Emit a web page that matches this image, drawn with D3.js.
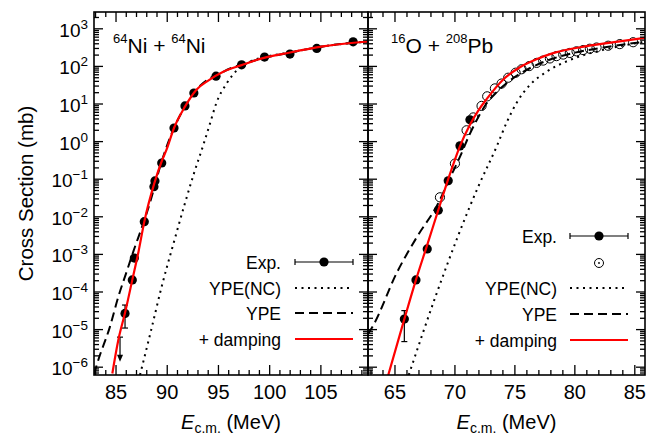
<!DOCTYPE html>
<html><head><meta charset="utf-8">
<script src="https://cdn.jsdelivr.net/npm/d3@7"></script>
<style>
body{margin:0;background:#fff}
text{font-family:"Liberation Sans",Arial,Helvetica,sans-serif;fill:#000}
</style>
</head><body>
<svg id="c" width="657" height="436"></svg>
<script>
// ---------------- DATA ----------------
// 64Ni + 64Ni
const niExpE = [85.88, 86.59, 86.79, 87.76, 88.7, 88.8, 89.46, 90.66, 91.73, 92.6, 94.76, 97.26, 99.5, 101.98, 104.6, 108.15];
const niExpS = [2.7e-5, 2.1e-4, 8e-4, 7.4e-3, 0.063, 0.09, 0.27, 2.3, 8.9, 19.6, 55, 110, 177, 213, 300, 450];
const niErrE = [85.88];
const niErrLo = [1.1e-5];
const niErrHi = [4.5e-5];
const niLimitE = [85.39];
const niLimitTop = [6.3e-6];
const niLimitBottom = [1.4e-6];
const niDampE = [84.64, 85.22, 85.88, 86.59, 87.2, 87.76, 88.75, 89.46, 89.94, 90.66, 91.73, 92.85, 94.0, 95.47, 97.26, 98.7, 102, 105.2, 109.6];
const niDampS = [6.8e-7, 5.2e-6, 2.8e-5, 2.1e-4, 1.2e-3, 7.4e-3, 0.08, 0.3, 0.62, 2.3, 8.5, 24, 42, 72, 108, 148, 234, 340, 460];
const niYPEE = [82.85, 83.27, 84.41, 85.22, 86.04, 86.85, 87.5, 88.3, 89.46, 90.66, 91.73, 92.85, 95.47, 98.7, 102, 105.2, 109.6];
const niYPES = [6.5e-7, 1.55e-6, 1.2e-5, 7.4e-5, 3.5e-4, 1.6e-3, 5e-3, 2.3e-2, 0.3, 2.3, 8.5, 24, 72, 148, 234, 340, 460];
const niNCE = [87.34, 88.4, 89.46, 90.6, 91.73, 92.6, 93.52, 94.2, 94.8, 95.8, 96.8, 98.1, 99.5, 102, 105.2, 109.6];
const niNCS = [6.2e-7, 9e-6, 1.4e-4, 1.9e-3, 2.3e-2, 0.14, 0.81, 3.2, 10.7, 35, 79, 135, 178, 234, 340, 460];

// 16O + 208Pb
const oExpE = [65.78, 66.75, 67.69, 68.61, 69.44, 70.42, 71.25];
const oExpS = [1.9e-5, 2.1e-4, 1.4e-3, 1.5e-2, 9.1e-2, 0.77, 3.8];
const oErrE = [65.78];
const oErrLo = [4.8e-6];
const oErrHi = [3.2e-5];
const oOpenE = [68.75, 70.0, 70.97, 71.53, 72.22, 72.69, 73.33, 73.89, 74.44, 75.06, 75.56, 76.19, 76.81, 77.36, 77.92, 78.47, 79.03, 79.58, 80.14, 80.69, 81.25, 81.81, 82.78, 83.75, 84.86];
const oOpenS = [0.033, 0.26, 2.0, 4.4, 8.9, 16, 26, 35, 50, 68, 84, 102, 124, 143, 163, 188, 207, 228, 252, 272, 295, 318, 355, 392, 440];
const oDampE = [64.44, 65.78, 66.75, 67.69, 68.61, 69.44, 70.42, 71.25, 72.0, 72.64, 74.03, 75.42, 76.8, 78.19, 80.97, 83.75, 85.85];
const oDampS = [6.2e-7, 1.9e-5, 2.1e-4, 1.8e-3, 1.5e-2, 0.1, 0.76, 2.8, 7.1, 13.5, 45, 95, 155, 225, 345, 465, 575];
const oYPEE = [62.75, 63.19, 65.14, 66.8, 68.61, 69.6, 70.5, 71.2, 71.9, 72.6, 73.5, 74.5, 76.2, 78.0, 80.0, 82.4, 85.85];
const oYPES = [7.6e-6, 1.3e-5, 3.2e-4, 2.8e-3, 2.3e-2, 0.11, 0.45, 1.5, 4.2, 10, 21, 40, 88, 155, 232, 318, 455];
const oNCE = [66.15, 68.47, 71.94, 73.48, 74.31, 75.14, 76.25, 77.64, 79.58, 82.36, 85.14, 85.85];
const oNCS = [6.2e-7, 9.1e-5, 6.3e-2, 0.74, 3.2, 10.7, 32, 72, 148, 275, 417, 457];

// axis ticks
const yDomain = [6.2e-7, 2.8e3];
const yMajorExp = [-6, -5, -4, -3, -2, -1, 0, 1, 2, 3];
const niXDomain = [82.85, 109.6];
const niXMajor = [85, 90, 95, 100, 105];
const oXDomain = [62.75, 85.85];
const oXMajor = [65, 70, 75, 80, 85];

// ---------------- DRAWING ----------------
const svg = d3.select("#c");
const TOP = 12, BOT = 375;
const y = d3.scaleLog().domain(yDomain).range([BOT, TOP]);
const zip = (a, b) => a.map((v, i) => [v, b[i]]);

function panel(id, x0, x1, xDomain, xMajor) {
  const x = d3.scaleLinear().domain(xDomain).range([x0, x1]);
  svg.append("clipPath").attr("id", id).append("rect")
    .attr("x", x0).attr("y", TOP).attr("width", x1 - x0).attr("height", BOT - TOP);
  const g = svg.append("g");
  const plot = g.append("g").attr("clip-path", `url(#${id})`);
  const tg = g.append("g").attr("stroke", "#000").attr("stroke-width", 1.3);
  const minorY = y.ticks().filter(v => v >= yDomain[0] && v <= yDomain[1]);
  minorY.forEach(v => {
    const e = Math.log10(v);
    const major = Math.abs(e - Math.round(e)) < 1e-9;
    const L = major ? 9 : 5;
    const yy = y(v);
    tg.append("line").attr("x1", x0).attr("x2", x0 + L).attr("y1", yy).attr("y2", yy);
    tg.append("line").attr("x1", x1).attr("x2", x1 - L).attr("y1", yy).attr("y2", yy);
  });
  const xs = d3.range(Math.ceil(xDomain[0]), Math.floor(xDomain[1]) + 1);
  xs.forEach(v => {
    const major = xMajor.includes(v);
    const L = major ? 10 : 5;
    const xx = x(v);
    tg.append("line").attr("x1", xx).attr("x2", xx).attr("y1", BOT).attr("y2", BOT - L);
    tg.append("line").attr("x1", xx).attr("x2", xx).attr("y1", TOP).attr("y2", TOP + L);
  });
  xMajor.forEach(v => {
    g.append("text").attr("x", x(v)).attr("y", 399).attr("text-anchor", "middle")
      .attr("font-size", 20).text(v);
  });
  g.append("rect").attr("x", x0).attr("y", TOP).attr("width", x1 - x0).attr("height", BOT - TOP)
    .attr("fill", "none").attr("stroke", "#000").attr("stroke-width", 1.6);
  const t = g.append("text").attr("x", (x0 + x1) / 2).attr("y", 429).attr("text-anchor", "middle").attr("font-size", 20);
  t.append("tspan").attr("font-style", "italic").text("E");
  t.append("tspan").attr("font-size", 14).attr("dy", 4).text("c.m.");
  t.append("tspan").attr("dy", -4).text(" (MeV)");
  return {x, g, plot};
}

const line = (x) => d3.line().x(d => x(d[0])).y(d => y(d[1])).curve(d3.curveMonotoneX);

function curves(P, nc, ype, damp) {
  P.plot.append("path").datum(nc).attr("d", line(P.x)).attr("fill", "none")
    .attr("stroke", "#000").attr("stroke-width", 2).attr("stroke-dasharray", "2,4.5");
  P.plot.append("path").datum(ype).attr("d", line(P.x)).attr("fill", "none")
    .attr("stroke", "#000").attr("stroke-width", 2).attr("stroke-dasharray", "9,5");
  return () => P.plot.append("path").datum(damp).attr("d", line(P.x)).attr("fill", "none")
    .attr("stroke", "#ff0000").attr("stroke-width", 2.2);
}

function errBars(P, E, lo, hi) {
  E.forEach((e, i) => {
    const xx = P.x(e);
    P.plot.append("line").attr("x1", xx).attr("x2", xx).attr("y1", y(lo[i])).attr("y2", y(hi[i])).attr("stroke", "#000").attr("stroke-width", 1.2);
    [lo[i], hi[i]].forEach(v => P.plot.append("line").attr("x1", xx - 3).attr("x2", xx + 3).attr("y1", y(v)).attr("y2", y(v)).attr("stroke", "#000").attr("stroke-width", 1.2));
  });
}

function filled(P, pts) {
  P.plot.selectAll(null).data(pts).enter().append("circle")
    .attr("cx", d => P.x(d[0])).attr("cy", d => y(d[1])).attr("r", 4.6).attr("fill", "#000");
}

function legend(x0, x1, xText, rows) {
  const g = svg.append("g");
  const lf = 17.5;
  rows.forEach(r => {
    if (r.label) g.append("text").attr("x", xText).attr("y", r.y + 7).attr("text-anchor", "end").attr("font-size", lf).text(r.label);
    const xm = (x0 + x1) / 2;
    if (r.kind === "exp") {
      g.append("line").attr("x1", x0).attr("x2", x1).attr("y1", r.y).attr("y2", r.y).attr("stroke", "#000").attr("stroke-width", 1.2);
      [x0, x1].forEach(xx => g.append("line").attr("x1", xx).attr("x2", xx).attr("y1", r.y - 3).attr("y2", r.y + 3).attr("stroke", "#000").attr("stroke-width", 1.2));
      g.append("circle").attr("cx", xm).attr("cy", r.y).attr("r", 4.6).attr("fill", "#000");
    } else if (r.kind === "open") {
      g.append("circle").attr("cx", xm).attr("cy", r.y).attr("r", 4.5).attr("fill", "none").attr("stroke", "#000").attr("stroke-width", 1);
      g.append("circle").attr("cx", xm).attr("cy", r.y).attr("r", 0.9).attr("fill", "#000");
    } else {
      const st = {nc: ["#000", "2,4.5"], ype: ["#000", "9,5"], damp: ["#ff0000", null]}[r.kind];
      g.append("line").attr("x1", x0).attr("x2", x1).attr("y1", r.y).attr("y2", r.y)
        .attr("stroke", st[0]).attr("stroke-width", 2).attr("stroke-dasharray", st[1]);
    }
  });
}

// left panel
const L = panel("clipL", 94, 368, niXDomain, niXMajor);
const redL = curves(L, zip(niNCE, niNCS), zip(niYPEE, niYPES), zip(niDampE, niDampS));
errBars(L, niErrE, niErrLo, niErrHi);
niLimitE.forEach((e, i) => {
  const xx = L.x(e), yt = y(niLimitTop[i]), yb = y(niLimitBottom[i]);
  L.plot.append("line").attr("x1", xx - 3).attr("x2", xx + 3).attr("y1", yt).attr("y2", yt).attr("stroke", "#000").attr("stroke-width", 1.2);
  L.plot.append("line").attr("x1", xx).attr("x2", xx).attr("y1", yt).attr("y2", yb - 6).attr("stroke", "#000").attr("stroke-width", 1.2);
  L.plot.append("path").attr("d", `M${xx - 3},${yb - 7}L${xx + 3},${yb - 7}L${xx},${yb}Z`).attr("fill", "#000");
});
filled(L, zip(niExpE, niExpS));
redL();

// right panel
const R = panel("clipR", 368, 645, oXDomain, oXMajor);
const redR = curves(R, zip(oNCE, oNCS), zip(oYPEE, oYPES), zip(oDampE, oDampS));
R.plot.selectAll(null).data(zip(oOpenE, oOpenS)).enter().append("circle")
  .attr("cx", d => R.x(d[0])).attr("cy", d => y(d[1])).attr("r", 4.6)
  .attr("fill", "none").attr("stroke", "#000").attr("stroke-width", 1);
errBars(R, oErrE, oErrLo, oErrHi);
filled(R, zip(oExpE, oExpS));
redR();

// y tick labels
yMajorExp.forEach(e => {
  const t = svg.append("text").attr("x", 88).attr("y", y(Math.pow(10, e)) + 8).attr("text-anchor", "end").attr("font-size", 19);
  t.append("tspan").text("10");
  t.append("tspan").attr("font-size", 13.5).attr("dy", -8).text(String(e).replace("-", "\u2212"));
});
svg.append("text").attr("transform", "translate(33,193.5) rotate(-90)").attr("text-anchor", "middle")
  .attr("font-size", 20.5).text("Cross Section (mb)");

function plabel(x, parts) {
  const t = svg.append("text").attr("x", x).attr("y", 53).attr("font-size", 21);
  parts.forEach(([s, sup]) => {
    t.append("tspan").attr("font-size", sup ? 13 : 21).attr("dy", sup ? -10 : 10).text(s);
  });
  t.select("tspan").attr("dy", -10);
}
plabel(113, [["64", 1], ["Ni + ", 0], ["64", 1], ["Ni", 0]]);
plabel(391, [["16", 1], ["O + ", 0], ["208", 1], ["Pb", 0]]);

legend(295, 353, 281, [
  {label: "Exp.", kind: "exp", y: 262},
  {label: "YPE(NC)", kind: "nc", y: 288},
  {label: "YPE", kind: "ype", y: 313},
  {label: "+ damping", kind: "damp", y: 339}
]);
legend(570, 628, 557, [
  {label: "Exp.", kind: "exp", y: 236},
  {label: "", kind: "open", y: 263},
  {label: "YPE(NC)", kind: "nc", y: 288},
  {label: "YPE", kind: "ype", y: 314},
  {label: "+ damping", kind: "damp", y: 340}
]);
</script>
</body></html>
